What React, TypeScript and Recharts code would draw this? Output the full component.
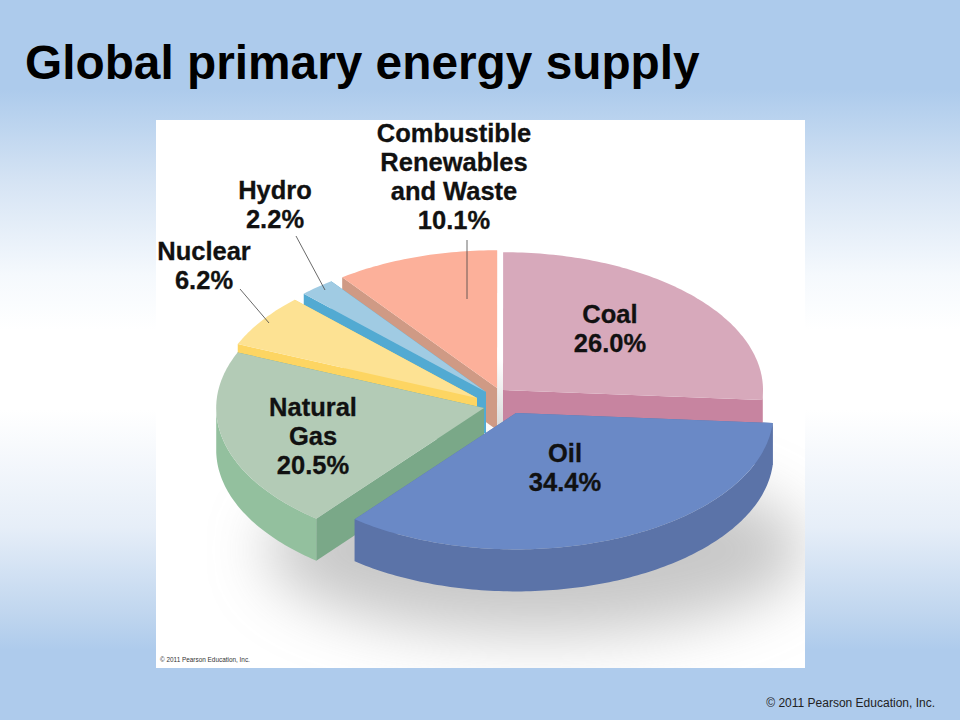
import { PieChart, Pie } from 'recharts';

const names = ['Coal', 'Combustible', 'Hydro', 'Nuclear', 'Natural Gas', 'Oil'];
const shares = [26.0, 10.1, 2.2, 6.2, 20.5, 34.4];
const labelLines = [
  ['Coal'],
  ['Combustible', 'Renewables', 'and Waste'],
  ['Hydro'],
  ['Nuclear'],
  ['Natural', 'Gas'],
  ['Oil'],
];
const topColors = ['#d7a9bb', '#fcb09a', '#a0cbe3', '#fde293', '#b3cbb6', '#6a89c6'];
const rimColors = ['#c784a0', '#cf9a85', '#52aad2', '#fdd562', '#93c09e', '#5b73a8'];
const wallColors = ['#c784a0', '#cf9a85', '#52aad2', '#fdd562', '#7aa888', '#5b73a8'];

// how far each slice is pulled out of the middle, and its radius stretch
const explode = [
  [3, -5],
  [-3, -7],
  [-14, -3],
  [-23, 3],
  [-16, 13],
  [16, 18],
];
const stretch = [1, 1, 1, 1, 1.03, 0.99];
const labelSpots = [
  [610, 323],
  [454, 142],
  [275, 199],
  [204, 260],
  [313, 416],
  [565, 462],
];
const leaders: Record<number, number[]> = {
  1: [467, 240, 467, 299],
  2: [296, 236, 325, 290],
  3: [240, 289, 269, 323],
};

const tableData = names.map((name, i) => ({
  name,
  value: shares[i],
  index: i,
  fill: topColors[i],
}));

const SQUASH = 0.53;
const DEPTH = 42;
const RAD = Math.PI / 180;

function Slice3D(props: any) {
  const { cx, cy, outerRadius, startAngle, endAngle, payload } = props;
  const i = payload.index;
  const ox = cx + explode[i][0];
  const oy = cy + explode[i][1];
  const r = outerRadius * stretch[i];
  const at = (deg: number): [number, number] => [
    ox + r * Math.cos(deg * RAD),
    oy - r * SQUASH * Math.sin(deg * RAD),
  ];
  const low = Math.min(startAngle, endAngle);
  const high = Math.max(startAngle, endAngle);
  const arc: number[] = [];
  for (let a = low; a < high; a += 1) arc.push(a);
  arc.push(high);

  const edge = arc.map(at);
  const top = [[ox, oy], ...edge].map((p) => p.join(',')).join(' ');

  const lower = arc.filter((a) => Math.sin(a * RAD) <= 0).map(at);
  const rim = [...lower, ...[...lower].reverse().map(([x, y]) => [x, y + DEPTH])]
    .map((p) => p.join(','))
    .join(' ');

  const wall = (p: [number, number]) =>
    [
      [ox, oy],
      p,
      [p[0], p[1] + DEPTH],
      [ox, oy + DEPTH],
    ]
      .map((q) => q.join(','))
      .join(' ');

  return (
    <g>
      <polygon points={wall(edge[0])} fill={wallColors[i]} />
      <polygon points={wall(edge[edge.length - 1])} fill={wallColors[i]} />
      {lower.length > 1 && <polygon points={rim} fill={rimColors[i]} />}
      <polygon points={top} fill={topColors[i]} />
    </g>
  );
}

function SliceLabel(props: any) {
  const i = props.index;
  const [x, y] = labelSpots[i];
  const lines = [...labelLines[i], `${shares[i].toFixed(1)}%`];
  const leader = leaders[i];
  return (
    <g>
      {leader && (
        <line
          x1={leader[0]}
          y1={leader[1]}
          x2={leader[2]}
          y2={leader[3]}
          stroke="#444"
          strokeWidth={0.8}
        />
      )}
      <text
        x={x}
        y={y}
        textAnchor="middle"
        fontFamily="Liberation Sans"
        fontWeight="bold"
        fontSize={25.5}
        fill="#111"
        stroke="#111"
        strokeWidth={0.3}
      >
        {lines.map((line, k) => (
          <tspan key={k} x={x} dy={k === 0 ? 0 : 29}>
            {line}
          </tspan>
        ))}
      </text>
    </g>
  );
}

export default function App() {
  return (
    <div
      style={{
        position: 'fixed',
        left: 0,
        top: 0,
        width: 960,
        height: 720,
        overflow: 'hidden',
        fontFamily: 'Liberation Sans',
        background:
          'linear-gradient(180deg, #adcbec 0px, #adcbec 90px, #d6e4f4 183px, #f5f9fd 275px, #ffffff 330px, #ffffff 410px, #e6eef8 527px, #bdd4ee 620px, #aecbec 650px, #aecbec 720px)',
      }}
    >
      <div
        style={{
          position: 'absolute',
          left: 25,
          top: 35,
          fontSize: 47.8,
          fontWeight: 'bold',
          color: '#000',
          lineHeight: '56px',
        }}
      >
        Global primary energy supply
      </div>

      <div
        style={{
          position: 'absolute',
          left: 156,
          top: 120,
          width: 649,
          height: 548,
          background: '#fff',
          overflow: 'hidden',
        }}
      >
        <div
          style={{
            position: 'absolute',
            left: 110,
            top: 345,
            width: 540,
            height: 170,
            borderRadius: '50%',
            background: 'rgba(110,110,110,0.38)',
            filter: 'blur(30px)',
          }}
        />
        <div
          style={{
            position: 'absolute',
            left: 341,
            top: 240,
            width: 6,
            height: 70,
            background: 'linear-gradient(180deg, #ffffff, #d8d8d8)',
          }}
        />
        <div
          style={{
            position: 'absolute',
            left: 4,
            top: 536,
            fontSize: 6.4,
            color: '#333',
          }}
        >
          © 2011 Pearson Education, Inc.
        </div>
      </div>

      <div style={{ position: 'absolute', left: 0, top: 0 }}>
        <PieChart width={960} height={720} margin={{ top: 0, right: 0, bottom: 0, left: 0 }}>
          <Pie
            data={tableData}
            dataKey="value"
            nameKey="name"
            cx={500}
            cy={395}
            outerRadius={260}
            startAngle={-4.2}
            endAngle={355.8}
            stroke="none"
            shape={Slice3D}
            label={SliceLabel}
            labelLine={false}
            isAnimationActive={false}
          />
        </PieChart>
      </div>

      <div
        style={{
          position: 'absolute',
          right: 25,
          top: 696,
          fontSize: 12,
          color: '#222',
        }}
      >
        © 2011 Pearson Education, Inc.
      </div>
    </div>
  );
}
